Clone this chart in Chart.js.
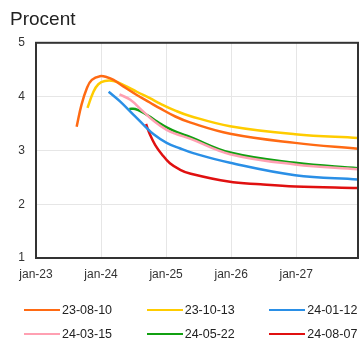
<!DOCTYPE html>
<html>
<head>
<meta charset="utf-8">
<script src="https://cdn.jsdelivr.net/npm/chart.js@4"></script>
<style>
  body { margin: 0; background: #fff; }
  #wrap { position: relative; width: 360px; height: 338px; }
  #chart { position: absolute; left: 0; top: 0; }
  .item { position: absolute; height: 16px; display: flex; align-items: center;
          font: 12.5px 'Liberation Sans', Arial, sans-serif; color: #222; white-space: nowrap; }
  .item span.line { display: inline-block; width: 36px; height: 2.5px; margin-right: 2px; }
</style>
</head>
<body>
<div id="wrap">
  <canvas id="chart" width="360" height="338"></canvas>
  <div id="legend"></div>
</div>
<script>
// x values are months since jan-23
const xTickLabels = ['jan-23', 'jan-24', 'jan-25', 'jan-26', 'jan-27'];
const seriesNames = ['23-08-10', '23-10-13', '24-01-12', '24-03-15', '24-05-22', '24-08-07'];
const seriesColors = ['#ff6a13', '#ffcc00', '#2a8fe6', '#ffa0b2', '#11a011', '#e01010'];

const months230810 = [7.5, 8.4, 9.4, 10.3, 11.8, 13.1, 14.3, 16.1, 18.6, 21.0, 22.9, 25.7, 28.4, 35.8, 47.8, 59.4];
const values230810 = [3.44, 3.85, 4.16, 4.31, 4.38, 4.36, 4.31, 4.19, 4.03, 3.89, 3.78, 3.63, 3.52, 3.31, 3.14, 3.03];

const months231013 = [9.5, 10.6, 11.5, 12.7, 14.3, 16.1, 18.6, 21.0, 22.9, 25.7, 28.4, 35.8, 47.8, 59.4];
const values231013 = [3.79, 4.09, 4.23, 4.29, 4.29, 4.22, 4.09, 3.97, 3.87, 3.74, 3.64, 3.45, 3.30, 3.23];

const months240112 = [13.4, 15.5, 18.0, 19.8, 21.7, 24.1, 26.5, 29.0, 35.8, 47.8, 59.4];
const values240112 = [4.09, 3.91, 3.66, 3.48, 3.30, 3.14, 3.04, 2.95, 2.77, 2.54, 2.46];

const months240315 = [15.4, 17.4, 19.8, 21.7, 24.1, 26.0, 28.4, 35.8, 47.8, 59.4];
const values240315 = [4.04, 3.94, 3.72, 3.55, 3.38, 3.30, 3.22, 2.93, 2.74, 2.65];

const months240522 = [17.2, 18.3, 19.8, 21.7, 22.9, 24.1, 26.0, 28.4, 35.8, 47.8, 59.4];
const values240522 = [3.77, 3.77, 3.70, 3.58, 3.50, 3.43, 3.34, 3.25, 2.96, 2.77, 2.67];

const months240807 = [20.3, 21.0, 22.0, 23.2, 24.7, 26.6, 28.4, 35.5, 41.4, 47.8, 59.4];
const values240807 = [3.49, 3.30, 3.10, 2.93, 2.76, 2.64, 2.57, 2.42, 2.37, 2.33, 2.30];

const seriesMonths = [months230810, months231013, months240112, months240315, months240522, months240807];
const seriesValues = [values230810, values231013, values240112, values240315, values240522, values240807];

Chart.defaults.font.family = "'Liberation Sans', Arial, sans-serif";

// dark box round the plot area
const frame = {
  id: 'frame',
  afterDatasetsDraw(chart) {
    const { ctx, chartArea: a } = chart;
    ctx.save();
    ctx.strokeStyle = '#333';
    ctx.lineWidth = 2;
    ctx.strokeRect(a.left, a.top, a.right - a.left, a.bottom - a.top);
    ctx.restore();
  }
};

const datasets = seriesNames.map((name, i) => ({
  label: name,
  data: seriesMonths[i].map((m, j) => ({ x: m, y: seriesValues[i][j] })),
  borderColor: seriesColors[i],
  backgroundColor: seriesColors[i],
  borderWidth: 2.5,
  pointRadius: 0,
  tension: 0.4
}));

new Chart(document.getElementById('chart'), {
  type: 'line',
  data: { datasets: datasets },
  options: {
    responsive: false,
    animation: false,
    layout: { padding: { left: 10, right: 2, top: 0, bottom: 50 } },
    scales: {
      x: {
        type: 'linear',
        min: 0,
        max: 59.4,
        afterFit: (s) => { s.height = 30; },
        ticks: {
          stepSize: 12,
          includeBounds: false,
          autoSkip: false,
          maxRotation: 0,
          padding: 9,
          color: '#333',
          font: { size: 12 },
          callback: (v) => xTickLabels[v / 12]
        },
        grid: { color: '#e6e6e6', drawTicks: false },
        border: { display: false }
      },
      y: {
        min: 1,
        max: 5,
        afterFit: (s) => { s.width = 26; },
        ticks: { stepSize: 1, padding: 11, color: '#333', font: { size: 12 } },
        grid: { color: '#e6e6e6', drawTicks: false },
        border: { display: false }
      }
    },
    plugins: {
      legend: { display: false },
      tooltip: { enabled: false },
      title: {
        display: true,
        text: 'Procent',
        align: 'start',
        color: '#222',
        font: { size: 19, weight: 'normal' },
        padding: { top: 8, bottom: 12 }
      }
    }
  },
  plugins: [frame]
});

// legend: 3 columns, 2 rows
const legend = document.getElementById('legend');
const colX = [24, 146.7, 269.3];
const rowY = [310, 334];
seriesNames.forEach((name, i) => {
  const el = document.createElement('div');
  el.className = 'item';
  el.style.left = colX[i % 3] + 'px';
  el.style.top = (rowY[Math.floor(i / 3)] - 8) + 'px';
  el.innerHTML = '<span class="line" style="background:' + seriesColors[i] + '"></span>' + name;
  legend.appendChild(el);
});
</script>
</body>
</html>
